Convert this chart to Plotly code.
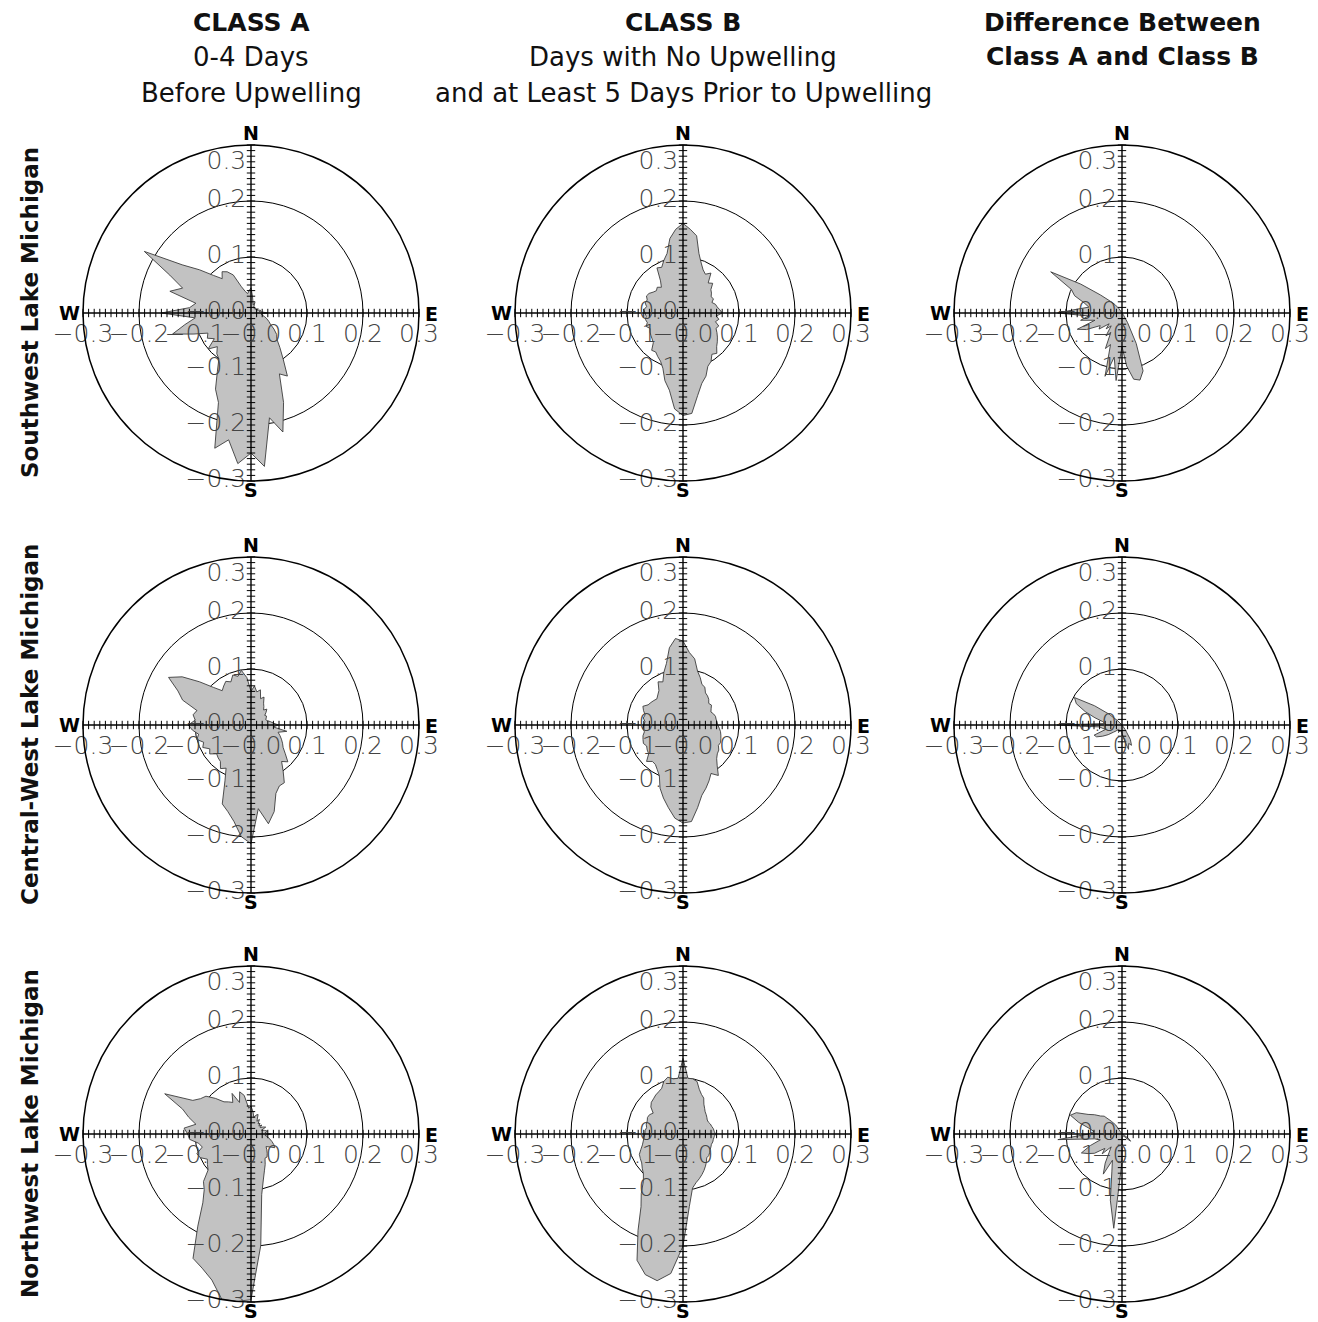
import plotly.graph_objects as go

W, H = 1318, 1322

# ---------------- data (compass bearing in degrees, value per bearing) ----------------
bearings = list(range(0, 360, 5))

sw_class_a = [0.045, 0.03, 0.02, 0.015, 0.02, 0.012, 0.01, 0.012, 0.01, 0.012, 0.01, 0.012,
              0.015, 0.012, 0.015, 0.018, 0.015, 0.02, 0.03, 0.018, 0.02, 0.025, 0.03, 0.035,
              0.04, 0.05, 0.06, 0.065, 0.08, 0.1, 0.13, 0.12, 0.17, 0.22, 0.19, 0.275,
              0.25, 0.27, 0.23, 0.25, 0.17, 0.15, 0.12, 0.1, 0.095, 0.085, 0.1, 0.08,
              0.09, 0.085, 0.11, 0.145, 0.12, 0.1, 0.16, 0.11, 0.1, 0.15, 0.13, 0.16,
              0.22, 0.15, 0.12, 0.095, 0.08, 0.09, 0.085, 0.075, 0.05, 0.04, 0.035, 0.04]
sw_class_b = [0.16, 0.15, 0.14, 0.11, 0.095, 0.085, 0.08, 0.087, 0.07, 0.075, 0.065, 0.062,
              0.058, 0.06, 0.055, 0.06, 0.062, 0.066, 0.07, 0.06, 0.065, 0.06, 0.068, 0.065,
              0.07, 0.075, 0.08, 0.085, 0.094, 0.09, 0.1, 0.105, 0.12, 0.13, 0.15, 0.18,
              0.183, 0.172, 0.14, 0.125, 0.105, 0.095, 0.09, 0.085, 0.087, 0.075, 0.072, 0.07,
              0.068, 0.065, 0.07, 0.066, 0.068, 0.066, 0.068, 0.07, 0.066, 0.07, 0.068, 0.072,
              0.07, 0.065, 0.062, 0.065, 0.06, 0.07, 0.093, 0.09, 0.1, 0.11, 0.135, 0.15]
sw_diff = [0.0, 0.0, 0.0, 0.0, 0.0, 0.0, 0.0, 0.0, 0.0, 0.0, 0.0, 0.0,
           0.0, 0.0, 0.0, 0.0, 0.0, 0.0, 0.0, 0.0, 0.0, 0.0, 0.0, 0.0,
           0.0, 0.0, 0.0, 0.0, 0.0, 0.005, 0.02, 0.06, 0.11, 0.124, 0.12, 0.095,
           0.06, 0.121, 0.08, 0.117, 0.06, 0.07, 0.04, 0.05, 0.03, 0.04, 0.03, 0.05,
           0.045, 0.07, 0.085, 0.05, 0.075, 0.06, 0.115, 0.08, 0.06, 0.07, 0.09, 0.1,
           0.147, 0.09, 0.05, 0.03, 0.02, 0.01, 0.0, 0.0, 0.0, 0.0, 0.0, 0.0]

cw_class_a = [0.06, 0.07, 0.06, 0.065, 0.05, 0.055, 0.045, 0.04, 0.035, 0.04, 0.035, 0.03,
              0.032, 0.03, 0.028, 0.03, 0.035, 0.04, 0.049, 0.04, 0.065, 0.05, 0.055, 0.06,
              0.065, 0.07, 0.08, 0.093, 0.085, 0.1, 0.119, 0.12, 0.13, 0.16, 0.179, 0.15,
              0.212, 0.2, 0.175, 0.16, 0.15, 0.11, 0.089, 0.095, 0.085, 0.083, 0.08, 0.09,
              0.085, 0.095, 0.09, 0.1, 0.095, 0.105, 0.112, 0.1, 0.105, 0.1, 0.13, 0.144,
              0.17, 0.15, 0.12, 0.095, 0.08, 0.085, 0.09, 0.085, 0.095, 0.09, 0.099, 0.085]
cw_class_b = [0.15, 0.13, 0.12, 0.1, 0.09, 0.08, 0.078, 0.07, 0.068, 0.065, 0.06, 0.062,
              0.058, 0.055, 0.058, 0.06, 0.06, 0.061, 0.062, 0.065, 0.068, 0.07, 0.072, 0.074,
              0.073, 0.078, 0.08, 0.085, 0.095, 0.11, 0.1, 0.11, 0.12, 0.13, 0.15, 0.173,
              0.175, 0.167, 0.15, 0.135, 0.12, 0.1, 0.092, 0.086, 0.085, 0.092, 0.08, 0.078,
              0.075, 0.078, 0.076, 0.074, 0.07, 0.072, 0.07, 0.068, 0.072, 0.07, 0.075, 0.079,
              0.072, 0.07, 0.068, 0.066, 0.07, 0.075, 0.089, 0.085, 0.1, 0.114, 0.14, 0.155]
cw_diff = [0.0, 0.0, 0.0, 0.0, 0.0, 0.0, 0.0, 0.0, 0.0, 0.0, 0.0, 0.0,
           0.0, 0.0, 0.0, 0.0, 0.0, 0.0, 0.0, 0.0, 0.0, 0.0, 0.0, 0.0,
           0.0, 0.0, 0.0, 0.0, 0.0, 0.01, 0.03, 0.04, 0.035, 0.045, 0.03, 0.02,
           0.015, 0.01, 0.01, 0.012, 0.01, 0.015, 0.01, 0.012, 0.01, 0.015, 0.02, 0.03,
           0.04, 0.05, 0.053, 0.03, 0.035, 0.04, 0.116, 0.03, 0.035, 0.05, 0.07, 0.09,
           0.098, 0.06, 0.03, 0.01, 0.0, 0.0, 0.0, 0.0, 0.0, 0.0, 0.0, 0.0]

nw_class_a = [0.05, 0.04, 0.03, 0.035, 0.037, 0.025, 0.03, 0.022, 0.025, 0.02, 0.025, 0.02,
              0.025, 0.029, 0.02, 0.025, 0.03, 0.025, 0.036, 0.025, 0.03, 0.035, 0.04, 0.045,
              0.049, 0.04, 0.035, 0.04, 0.045, 0.05, 0.05, 0.06, 0.07, 0.085, 0.11, 0.2,
              0.296, 0.3, 0.3, 0.27, 0.255, 0.245, 0.19, 0.15, 0.13, 0.12, 0.1, 0.095,
              0.09, 0.1, 0.103, 0.09, 0.095, 0.11, 0.113, 0.12, 0.1, 0.115, 0.13, 0.17,
              0.12, 0.11, 0.105, 0.09, 0.075, 0.07, 0.065, 0.08, 0.06, 0.078, 0.07, 0.046]
nw_class_b = [0.135, 0.1, 0.1, 0.097, 0.085, 0.078, 0.074, 0.065, 0.06, 0.056, 0.054, 0.052,
              0.05, 0.05, 0.052, 0.053, 0.055, 0.056, 0.058, 0.056, 0.055, 0.055, 0.054, 0.055,
              0.056, 0.058, 0.06, 0.06, 0.065, 0.07, 0.075, 0.08, 0.085, 0.09, 0.098, 0.13,
              0.2, 0.25, 0.266, 0.26, 0.24, 0.19, 0.15, 0.13, 0.11, 0.1, 0.095, 0.09,
              0.088, 0.086, 0.08, 0.075, 0.072, 0.07, 0.068, 0.068, 0.066, 0.068, 0.068, 0.07,
              0.069, 0.065, 0.075, 0.08, 0.082, 0.085, 0.087, 0.09, 0.1, 0.105, 0.1, 0.1]
nw_diff = [0.0, 0.0, 0.0, 0.0, 0.0, 0.0, 0.0, 0.0, 0.0, 0.0, 0.0, 0.0,
           0.0, 0.0, 0.0, 0.0, 0.0, 0.0, 0.0, 0.0, 0.0, 0.0, 0.0, 0.0,
           0.005, 0.015, 0.02, 0.01, 0.005, 0.005, 0.005, 0.005, 0.005, 0.005, 0.005, 0.005,
           0.05, 0.169, 0.12, 0.07, 0.05, 0.079, 0.06, 0.04, 0.03, 0.05, 0.04, 0.06,
           0.07, 0.08, 0.06, 0.04, 0.05, 0.115, 0.06, 0.05, 0.06, 0.08, 0.098, 0.09,
           0.07, 0.06, 0.05, 0.045, 0.03, 0.02, 0.0, 0.0, 0.0, 0.0, 0.0, 0.0]

panels = [[sw_class_a, sw_class_b, sw_diff],
          [cw_class_a, cw_class_b, cw_diff],
          [nw_class_a, nw_class_b, nw_diff]]

col_titles = [["<b>CLASS A</b>", "0-4 Days", "Before Upwelling"],
              ["<b>CLASS B</b>", "Days with No Upwelling", "and at Least 5 Days Prior to Upwelling"],
              ["<b>Difference Between</b>", "<b>Class A and Class B</b>", ""]]
row_labels = ["Southwest Lake Michigan", "Central-West Lake Michigan", "Northwest Lake Michigan"]

ring_values = [0.1, 0.2]
r_max = 0.3
major_ticks = [0.1, 0.2, 0.3]
neg_labels = ["\u22120.1", "\u22120.2", "\u22120.3"]
pos_labels = ["0.1", "0.2", "0.3"]
zero_label = "\u22120.0"
compass = ["N", "E", "S", "W"]

# ---------------- layout geometry (pixels) ----------------
col_cx = [251, 683, 1122]
row_cy = [313, 725, 1134]
RPX = 168
title_y = [22, 57, 93]

FONT = "DejaVu Sans"
FILL = "#c2c2c2"
EDGE = "#3c3c3c"
TICKC = "#444444"


def px_x(x):
    return x / W


def px_y(y):
    return 1 - y / H


fig = go.Figure()
layout_polars = {}
minor = [round(0.01 * n, 2) for n in range(1, 31)]
vpos = ["bottom left", "middle left", "middle left", "middle left",
        "middle left", "middle left", "middle left"]

for i in range(3):
    for j in range(3):
        k = i * 3 + j + 1
        sub = "polar" if k == 1 else f"polar{k}"
        cx, cy = col_cx[j], row_cy[i]
        layout_polars[sub] = dict(
            domain=dict(x=[px_x(cx - RPX), px_x(cx + RPX)],
                        y=[px_y(cy + RPX), px_y(cy - RPX)]),
            bgcolor="white",
            radialaxis=dict(range=[0, r_max], tickvals=ring_values, showticklabels=False,
                            ticks="", showline=False, gridcolor="black", gridwidth=1.4),
            angularaxis=dict(rotation=90, direction="clockwise", showgrid=False,
                             showticklabels=False, ticks="", showline=True,
                             linecolor="black", linewidth=1.5),
        )
        vals = panels[i][j]
        fig.add_trace(go.Scatterpolar(
            r=vals + vals[:1], theta=bearings + bearings[:1], mode="lines",
            fill="toself", fillcolor=FILL, line=dict(color=EDGE, width=0.9),
            subplot=sub, showlegend=False, hoverinfo="skip"))
        # cross axes
        fig.add_trace(go.Scatterpolar(
            r=[r_max, 0, r_max, None, r_max, 0, r_max],
            theta=[0, 0, 180, None, 90, 90, 270], mode="lines",
            line=dict(color="black", width=1.4), subplot=sub,
            showlegend=False, hoverinfo="skip"))
        # tick marks on the vertical axis
        fig.add_trace(go.Scatterpolar(
            r=minor + minor, theta=[0] * len(minor) + [180] * len(minor), mode="markers",
            marker=dict(symbol="line-ew", size=6, color="black",
                        line=dict(width=1, color="black")),
            subplot=sub, showlegend=False, hoverinfo="skip", cliponaxis=False))
        # tick marks on the horizontal axis
        fig.add_trace(go.Scatterpolar(
            r=minor + minor, theta=[90] * len(minor) + [270] * len(minor), mode="markers",
            marker=dict(symbol="line-ns", size=6, color="black",
                        line=dict(width=1, color="black")),
            subplot=sub, showlegend=False, hoverinfo="skip", cliponaxis=False))
        # horizontal axis labels
        fig.add_trace(go.Scatterpolar(
            r=major_ticks[::-1] + [0] + major_ticks,
            theta=[270] * 3 + [90] + [90] * 3,
            text=neg_labels[::-1] + [zero_label] + pos_labels,
            mode="markers+text", textposition="bottom center",
            marker=dict(size=14, opacity=0),
            textfont=dict(family=FONT, size=25, color=TICKC, weight=300),
            subplot=sub, showlegend=False, hoverinfo="skip", cliponaxis=False))
        # vertical axis labels
        fig.add_trace(go.Scatterpolar(
            r=major_ticks[::-1] + [0] + major_ticks,
            theta=[0] * 3 + [0] + [180] * 3,
            text=pos_labels[::-1] + [zero_label] + neg_labels,
            mode="markers+text", textposition=vpos,
            marker=dict(size=6, opacity=0),
            textfont=dict(family=FONT, size=25, color=TICKC, weight=300),
            subplot=sub, showlegend=False, hoverinfo="skip", cliponaxis=False))

annotations = []
# compass letters
for i in range(3):
    for j in range(3):
        cx, cy = col_cx[j], row_cy[i]
        pos = {"N": (cx, cy - 180), "S": (cx, cy + 177), "E": (cx + 180, cy + 1), "W": (cx - 182, cy)}
        for c in compass:
            x, y = pos[c]
            annotations.append(dict(x=px_x(x), y=px_y(y), xref="paper", yref="paper",
                                    text=f"<b>{c}</b>", showarrow=False,
                                    xanchor="center", yanchor="middle",
                                    font=dict(family=FONT, size=19, color="black")))
# column titles
for j in range(3):
    for t, txt in enumerate(col_titles[j]):
        if not txt:
            continue
        bold = txt.startswith("<b>")
        annotations.append(dict(x=px_x(col_cx[j]), y=px_y(title_y[t]), xref="paper", yref="paper",
                                text=txt, showarrow=False, xanchor="center", yanchor="middle",
                                font=dict(family=FONT, size=25 if bold else 26, color="#111111")))
# row labels
for i in range(3):
    annotations.append(dict(x=px_x(30), y=px_y(row_cy[i]), xref="paper", yref="paper",
                            text=f"<b>{row_labels[i]}</b>", showarrow=False, textangle=-90,
                            xanchor="center", yanchor="middle",
                            font=dict(family=FONT, size=23, color="#111111")))

fig.update_layout(width=W, height=H, margin=dict(l=0, r=0, t=0, b=0),
                  paper_bgcolor="white", plot_bgcolor="white",
                  font=dict(family=FONT), showlegend=False,
                  annotations=annotations, **layout_polars)

fig.write_html("out.html", config={"displayModeBar": False},
               post_script="document.body.style.margin='0px';"
                           "document.body.style.overflow='hidden';")
